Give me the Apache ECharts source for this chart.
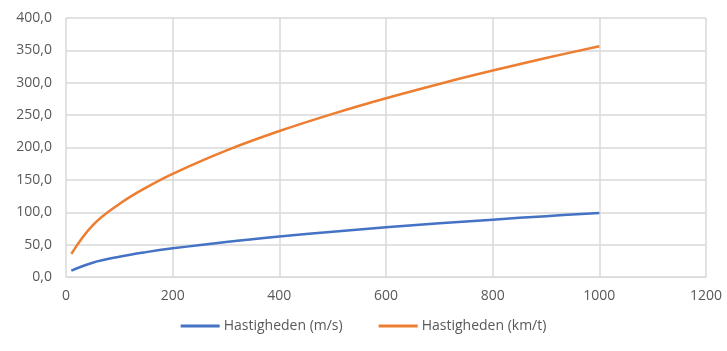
<!DOCTYPE html>
<html><head><meta charset="utf-8">
<script src="https://cdn.jsdelivr.net/npm/echarts@6/dist/echarts.min.js"></script>
<style>html,body{margin:0;padding:0;background:#fff}#c{width:727px;height:351px}</style>
</head><body><div id="c"></div>
<script>
const depths = [10, 50, 100, 150, 200, 300, 400, 500, 600, 700, 800, 900, 1000];
const speedMs = [9.9, 22.1, 31.3, 38.4, 44.3, 54.2, 62.6, 70.0, 76.7, 82.9, 88.6, 94.0, 99.0];
const speedKmt = [35.7, 79.7, 112.7, 138.0, 159.4, 195.2, 225.4, 252.0, 276.1, 298.2, 318.8, 338.2, 356.5];
const seriesNames = ['Hastigheden (m/s)', 'Hastigheden (km/t)'];

const chart = echarts.init(document.getElementById('c'));
const font = '"Open Sans", sans-serif';
chart.setOption({
  animation: false,
  grid: {left: 66, right: 21, top: 18, bottom: 74},
  legend: {
    bottom: 13, left: 'center', itemGap: 36, itemWidth: 39, itemHeight: 3, icon: 'rect',
    textStyle: {color: '#595959', fontSize: 14, fontFamily: font, padding: [0, 0, 0, -1]},
    data: seriesNames
  },
  xAxis: {
    type: 'value', min: 0, max: 1200, interval: 200,
    axisLine: {show: true, lineStyle: {color: '#d9d9d9', width: 1}},
    axisTick: {show: false},
    axisLabel: {color: '#595959', fontSize: 14, fontFamily: font, margin: 12,
      formatter: v => String(v)},
    splitLine: {show: true, lineStyle: {color: '#d9d9d9', width: 1.5}}
  },
  yAxis: {
    type: 'value', min: 0, max: 400, interval: 50,
    axisLine: {show: false}, axisTick: {show: false},
    axisLabel: {color: '#595959', fontSize: 14, fontFamily: font, margin: 14,
      formatter: v => v.toFixed(1).replace('.', ',')},
    splitLine: {show: true, lineStyle: {color: '#d9d9d9', width: 1.5}}
  },
  series: [
    {name: seriesNames[0], type: 'line', smooth: 0.4, showSymbol: false,
     lineStyle: {color: '#4472C4', width: 2.5}, itemStyle: {color: '#4472C4'},
     data: depths.map((d, i) => [d, speedMs[i]])},
    {name: seriesNames[1], type: 'line', smooth: 0.4, showSymbol: false,
     lineStyle: {color: '#ED7D31', width: 2.5}, itemStyle: {color: '#ED7D31'},
     data: depths.map((d, i) => [d, speedKmt[i]])}
  ]
});
</script></body></html>
